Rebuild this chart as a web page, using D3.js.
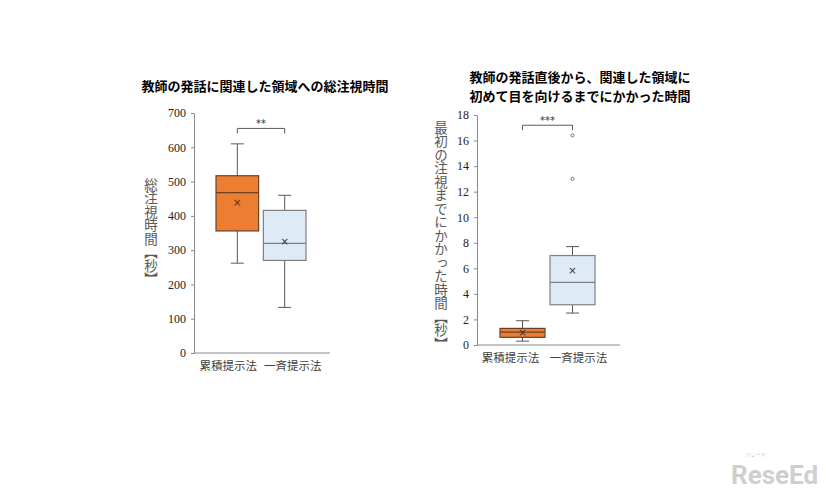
<!DOCTYPE html>
<html>
<head>
<meta charset="utf-8">
<script src="https://cdn.jsdelivr.net/npm/d3@7"></script>
<style>
  body { margin: 0; background: #fff; }
  svg { display: block; }
</style>
</head>
<body>
<main></main>
<script>
// data
const categories = ['累積提示法', '一斉提示法'];

// chart 1: 総注視時間 [秒]
const totalMin    = [262, 133];
const totalQ1     = [356, 270];
const totalMedian = [468, 320];
const totalQ3     = [517, 416];
const totalMax    = [610, 460];
const totalMean   = [440, 325];
const totalTicks  = [0, 100, 200, 300, 400, 500, 600, 700];

// chart 2: 最初の注視までにかかった時間 [秒]
const firstMin      = [0.3, 2.5];
const firstQ1       = [0.6, 3.15];
const firstMedian   = [1.0, 4.9];
const firstQ3       = [1.3, 7.0];
const firstMax      = [1.9, 7.7];
const firstMean     = [1.0, 5.8];
const firstOutliers = [[], [13.0, 16.4]];
const firstTicks    = [0, 2, 4, 6, 8, 10, 12, 14, 16, 18];

const sizeOfSVG = { width: 826, height: 494 };
const boxFill = ['#ED7D31', '#DEEBF7'];
const boxStroke = ['#6b4128', '#7f7f7f'];
const lineCol = '#595959';
const jp = '"Noto Sans CJK JP", "Noto Sans", sans-serif';

const svg = d3.select('main')
  .append('svg')
  .attr('width', sizeOfSVG.width)
  .attr('height', sizeOfSVG.height);

const drawChart = (cfg) => {
  const yScale = d3.scaleLinear().domain(cfg.domain).range(cfg.yRange);
  const xScale = d3.scaleBand().domain(categories).range(cfg.xRange)
    .paddingInner(0.1).paddingOuter(0);
  const g = svg.append('g');

  // title
  cfg.title.forEach((t, i) => {
    g.append('text')
      .attr('x', cfg.titleX).attr('y', cfg.titleY + i * 19)
      .attr('text-anchor', 'middle')
      .style('font-family', jp).style('font-weight', 'bold')
      .style('font-size', '13px').attr('fill', '#000')
      .text(t);
  });

  // y axis
  const yAxis = g.append('g')
    .attr('transform', `translate(${cfg.axisX},0)`)
    .call(d3.axisLeft(yScale).tickValues(cfg.ticks).tickSize(3).tickPadding(5).tickSizeOuter(0));
  yAxis.select('.domain').attr('stroke', '#888');
  yAxis.selectAll('.tick line').attr('stroke', '#888');
  yAxis.selectAll('.tick text')
    .style('font-family', '"Liberation Serif", serif')
    .style('font-size', '12px').attr('fill', '#222');

  // x axis line
  g.append('line')
    .attr('x1', cfg.axisX).attr('x2', cfg.axisEnd)
    .attr('y1', yScale(0)).attr('y2', yScale(0))
    .attr('stroke', '#888');

  // category labels
  categories.forEach((c, i) => {
    g.append('text')
      .attr('x', xScale(c) + xScale.bandwidth() / 2 + cfg.labelDx[i])
      .attr('y', yScale(0) + 17)
      .attr('text-anchor', 'middle')
      .style('font-family', jp).style('font-size', '11.5px')
      .attr('fill', '#404040')
      .text(c);
  });

  // y label (vertical)
  g.append('text')
    .attr('x', cfg.yLabelX).attr('y', cfg.yLabelY)
    .style('writing-mode', 'vertical-rl')
    .style('font-family', jp).style('font-size', '13.5px')
    .attr('fill', '#595959')
    .text(cfg.yLabel);

  // boxes
  categories.forEach((c, i) => {
    const x0 = xScale(c), bw = xScale.bandwidth(), cx = x0 + bw / 2;
    const cap = 6.5;
    const d = cfg.data;
    // whiskers
    g.append('line').attr('x1', cx).attr('x2', cx)
      .attr('y1', yScale(d.max[i])).attr('y2', yScale(d.q3[i])).attr('stroke', lineCol);
    g.append('line').attr('x1', cx).attr('x2', cx)
      .attr('y1', yScale(d.q1[i])).attr('y2', yScale(d.min[i])).attr('stroke', lineCol);
    [d.max[i], d.min[i]].forEach(v => {
      g.append('line').attr('x1', cx - cap).attr('x2', cx + cap)
        .attr('y1', yScale(v)).attr('y2', yScale(v)).attr('stroke', lineCol);
    });
    g.append('rect')
      .attr('x', x0).attr('width', bw)
      .attr('y', yScale(d.q3[i])).attr('height', yScale(d.q1[i]) - yScale(d.q3[i]))
      .attr('fill', boxFill[i]).attr('stroke', boxStroke[i]).attr('stroke-width', 1.2);
    g.append('line').attr('x1', x0).attr('x2', x0 + bw)
      .attr('y1', yScale(d.median[i])).attr('y2', yScale(d.median[i]))
      .attr('stroke', boxStroke[i]).attr('stroke-width', 1.2);
    // mean marker
    g.append('text')
      .attr('x', cx).attr('y', yScale(d.mean[i]) + 3.5)
      .attr('text-anchor', 'middle')
      .style('font-family', '"DejaVu Sans", sans-serif').style('font-size', '10px')
      .attr('fill', '#333').text('×');
    // outliers
    (d.outliers ? d.outliers[i] : []).forEach(v => {
      g.append('circle').attr('cx', cx).attr('cy', yScale(v)).attr('r', 1.6)
        .attr('fill', '#fff').attr('stroke', lineCol).attr('stroke-width', 0.8);
    });
  });

  // significance bracket
  const c1 = xScale(categories[0]) + xScale.bandwidth() / 2;
  const c2 = xScale(categories[1]) + xScale.bandwidth() / 2;
  const by = yScale(cfg.bracket);
  g.append('path')
    .attr('d', `M${c1},${by + 5}V${by}H${c2}V${by + 5}`)
    .attr('fill', 'none').attr('stroke', lineCol);
  g.append('text')
    .attr('x', (c1 + c2) / 2).attr('y', by - 1)
    .attr('text-anchor', 'middle')
    .style('font-family', '"DejaVu Sans", sans-serif').style('font-size', '10px')
    .attr('fill', '#333').text(cfg.stars);
};

drawChart({
  title: ['教師の発話に関連した領域への総注視時間'],
  titleX: 265, titleY: 91,
  domain: [0, 700], yRange: [353, 113], ticks: totalTicks,
  xRange: [216, 306], axisX: 194, axisEnd: 330,
  labelDx: [-9, 8],
  yLabel: '総注視時間【秒】', yLabelX: 151, yLabelY: 178,
  bracket: 655, stars: '**',
  data: { min: totalMin, q1: totalQ1, median: totalMedian, q3: totalQ3, max: totalMax, mean: totalMean }
});

drawChart({
  title: ['教師の発話直後から、関連した領域に', '初めて目を向けるまでにかかった時間'],
  titleX: 580, titleY: 82,
  domain: [0, 18], yRange: [345, 115], ticks: firstTicks,
  xRange: [500, 595], axisX: 477, axisEnd: 620,
  labelDx: [-12, 6],
  yLabel: '最初の注視までにかかった時間【秒】', yLabelX: 441, yLabelY: 121,
  bracket: 17.2, stars: '***',
  data: { min: firstMin, q1: firstQ1, median: firstMedian, q3: firstQ3, max: firstMax, mean: firstMean, outliers: firstOutliers }
});

// watermark
svg.append('text')
  .attr('x', 731).attr('y', 484)
  .style('font-family', 'Roboto, "DejaVu Sans", sans-serif').style('font-weight', 'bold')
  .style('font-size', '26px').attr('fill', '#cfcfcf')
  .text('ReseEd');
svg.append('text')
  .attr('x', 756).attr('y', 456).attr('text-anchor', 'middle')
  .style('font-family', jp).style('font-size', '5px').attr('fill', '#bbb')
  .text('リシード');
</script>
</body>
</html>
